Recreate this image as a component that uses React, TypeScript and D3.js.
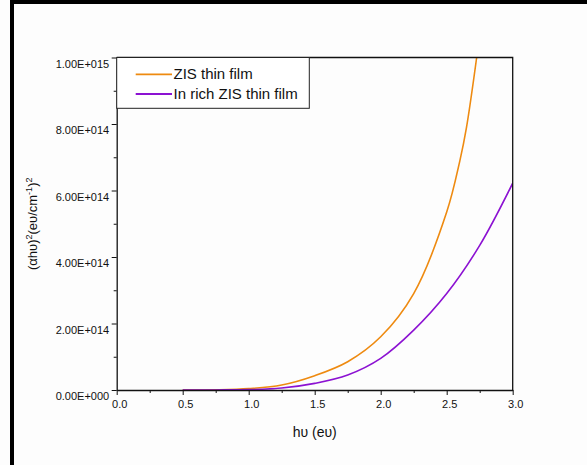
import { useEffect, useRef } from 'react';
import * as d3 from 'd3';

// photon energy (eV) and (αhυ)² in units of 1e14
const zisEnergy = [0.5, 0.75, 1.0, 1.25, 1.5, 1.75, 2.0, 2.25, 2.5, 2.6, 2.65, 2.727];
const zisValues = [0, 0.005, 0.04, 0.15, 0.43, 0.85, 1.6, 2.9, 5.35, 6.9, 7.9, 10];
const inRichEnergy = [0.5, 0.75, 1.0, 1.25, 1.5, 1.75, 2.0, 2.25, 2.5, 2.75, 3.0];
const inRichValues = [0, 0.002, 0.01, 0.06, 0.2, 0.45, 0.95, 1.8, 2.9, 4.35, 6.22];

const seriesNames = ['ZIS thin film', 'In rich ZIS thin film'];
const seriesColors = ['#ee8a10', '#8c12d2'];

const xMajorTicks = [0, 0.5, 1.0, 1.5, 2.0, 2.5, 3.0];
const xMinorTicks = [0.25, 0.75, 1.25, 1.75, 2.25, 2.75];
const yMajorTicks = [0, 2e14, 4e14, 6e14, 8e14, 1e15];
const yMinorTicks = [1e14, 3e14, 5e14, 7e14, 9e14];

const FONT = '"Liberation Sans", Arial, sans-serif';

const sciFormat = (v: number) => {
  const [m, e] = v.toExponential(2).split('e');
  const sign = e[0] === '-' ? '-' : '+';
  const digits = e.replace(/[+-]/, '').padStart(3, '0');
  return `${m}E${sign}${digits}`;
};

const render = (node: SVGSVGElement) => {
  const svg = d3.select(node);
  svg.selectAll('*').remove();

  const plot = { left: 116.7, right: 512.7, top: 57.5, bottom: 390 };

  const x = d3.scaleLinear().domain([0, 3]).range([plot.left, plot.right]);
  const y = d3.scaleLinear().domain([0, 1e15]).range([plot.bottom, plot.top]);

  // page background + partial frame
  svg.append('rect').attr('width', 587).attr('height', 465).attr('fill', '#fdfdfd');
  svg.append('rect').attr('x', 10).attr('y', 0).attr('width', 4).attr('height', 465).attr('fill', '#000');
  svg.append('rect').attr('x', 10).attr('y', 0).attr('width', 577).attr('height', 4).attr('fill', '#000');

  svg
    .append('clipPath')
    .attr('id', 'plot-clip')
    .append('rect')
    .attr('x', plot.left)
    .attr('y', plot.top)
    .attr('width', plot.right - plot.left)
    .attr('height', plot.bottom - plot.top);

  // curves
  const series = [
    { e: zisEnergy, v: zisValues },
    { e: inRichEnergy, v: inRichValues },
  ];
  const line = d3
    .line<[number, number]>()
    .x((d) => x(d[0]))
    .y((d) => y(d[1] * 1e14))
    .curve(d3.curveCatmullRom.alpha(0.5));

  series.forEach((s, i) => {
    const pts = s.e.map((e, j) => [e, s.v[j]] as [number, number]);
    svg
      .append('path')
      .attr('d', line(pts))
      .attr('fill', 'none')
      .attr('stroke', seriesColors[i])
      .attr('stroke-width', 1.6)
      .attr('clip-path', 'url(#plot-clip)');
  });

  // frame lines (top / right)
  svg
    .append('path')
    .attr('d', `M${plot.left},${plot.top}H${plot.right}V${plot.bottom}`)
    .attr('fill', 'none')
    .attr('stroke', '#111')
    .attr('stroke-width', 1.3);

  // X axis
  const gx = svg.append('g').attr('transform', `translate(0,${plot.bottom})`);
  gx.call(
    d3.axisBottom(x).tickValues(xMajorTicks).tickSize(5).tickSizeOuter(0).tickFormat(d3.format('.1f')),
  );
  gx.append('g').call(d3.axisBottom(x).tickValues(xMinorTicks).tickSize(3).tickFormat(() => ''));
  gx.selectAll('path.domain').attr('stroke', '#111').attr('stroke-width', 1.3);
  gx.selectAll('line').attr('stroke', '#111');
  gx.selectAll('text')
    .attr('font-family', FONT)
    .attr('font-size', 11)
    .attr('fill', '#111')
    .attr('dx', 2.5)
    .attr('y', 10.5);
  gx.selectAll('g g path.domain').remove();

  // Y axis
  const gy = svg.append('g').attr('transform', `translate(${plot.left},0)`);
  gy.call(d3.axisLeft(y).tickValues(yMajorTicks).tickSize(5).tickSizeOuter(0).tickFormat((d) => sciFormat(+d)));
  gy.append('g').call(d3.axisLeft(y).tickValues(yMinorTicks).tickSize(3).tickFormat(() => ''));
  gy.selectAll('path.domain').attr('stroke', '#111').attr('stroke-width', 1.3);
  gy.selectAll('line').attr('stroke', '#111');
  gy.selectAll('text')
    .attr('font-family', FONT)
    .attr('font-size', 11)
    .attr('fill', '#111')
    .attr('x', -7.5)
    .attr('dy', '0.9em');
  gy.selectAll('g g path.domain').remove();

  // axis titles
  svg
    .append('text')
    .attr('x', (plot.left + plot.right) / 2)
    .attr('y', 437)
    .attr('text-anchor', 'middle')
    .attr('font-family', FONT)
    .attr('font-size', 14)
    .attr('fill', '#111')
    .text('hυ (eυ)');

  const yt = svg
    .append('text')
    .attr('transform', `translate(37,${(plot.top + plot.bottom) / 2}) rotate(-90)`)
    .attr('text-anchor', 'middle')
    .attr('font-family', FONT)
    .attr('font-size', 13)
    .attr('fill', '#111');
  yt.append('tspan').text('(αhυ)');
  yt.append('tspan').attr('font-size', 9).attr('dy', -5).text('2');
  yt.append('tspan').attr('dy', 5).text('(eυ/cm');
  yt.append('tspan').attr('font-size', 9).attr('dy', -5).text('-1');
  yt.append('tspan').attr('dy', 5).text(')');
  yt.append('tspan').attr('font-size', 9).attr('dy', -5).text('2');

  // legend
  const lg = svg.append('g');
  lg.append('rect')
    .attr('x', plot.left)
    .attr('y', plot.top)
    .attr('width', 309.3 - plot.left)
    .attr('height', 108.3 - plot.top)
    .attr('fill', '#fff')
    .attr('stroke', '#222')
    .attr('stroke-width', 1);
  seriesNames.forEach((name, i) => {
    const ly = 74.3 + i * 19.7;
    lg.append('line')
      .attr('x1', 135.7)
      .attr('x2', 172)
      .attr('y1', ly)
      .attr('y2', ly)
      .attr('stroke', seriesColors[i])
      .attr('stroke-width', 1.8);
    lg.append('text')
      .attr('x', 173.5)
      .attr('y', ly + 4.8)
      .attr('font-family', FONT)
      .attr('font-size', 15)
      .attr('fill', '#111')
      .text(name);
  });
};

export default function App() {
  const ref = useRef<SVGSVGElement>(null);
  useEffect(() => {
    if (ref.current) render(ref.current);
  }, []);
  return (
    <svg
      ref={ref}
      width={587}
      height={465}
      style={{ position: 'absolute', left: 0, top: 0, display: 'block' }}
    />
  );
}
